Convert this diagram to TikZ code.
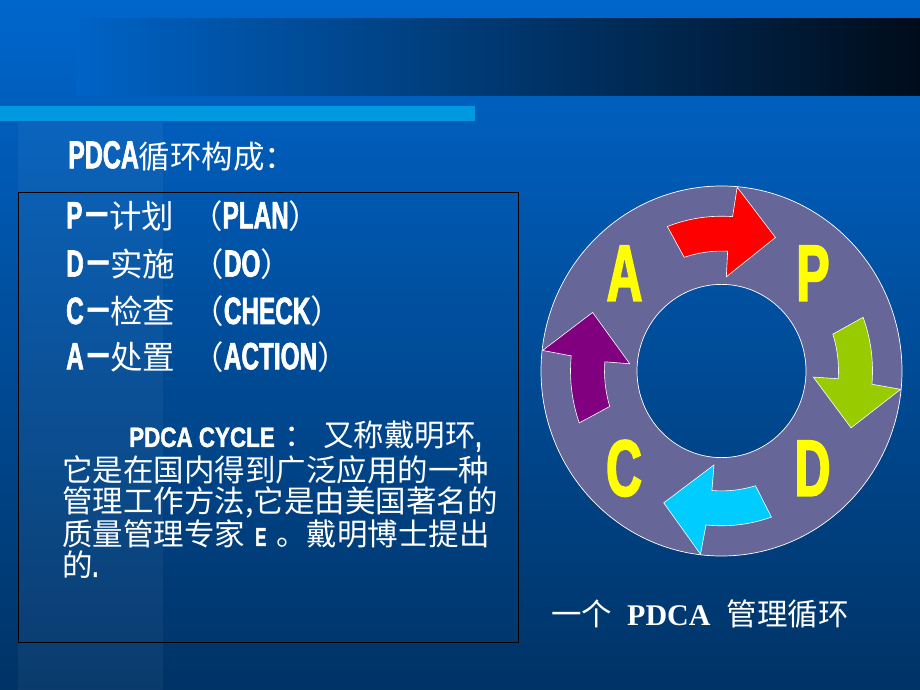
\documentclass[tikz,border=0pt]{standalone}
\usepackage{fontspec}
\newfontfamily\cjk{Noto Sans CJK SC}
\newfontfamily\impf{Liberation Sans}[UprightFont={* Bold}, BoldFont={* Bold}, FakeStretch=0.64, FakeBold=1.6]
\newfontfamily\impw{Liberation Sans}[UprightFont={* Bold}, BoldFont={* Bold}, FakeStretch=0.8, FakeBold=1.4]
\newfontfamily\impbig{Liberation Sans}[UprightFont={* Bold}, BoldFont={* Bold}, FakeStretch=0.62, FakeBold=2]
\newfontfamily\serifb{Liberation Serif}
\newcommand\fs[1]{\fontsize{#1}{#1}\selectfont}
\newcommand\I[2]{{\impf\fs{#1}#2}}
\newcommand\W[2]{{\impw\fs{#1}#2}}
\newcommand\dsh{\I{38}{\raisebox{4pt}{\scalebox{0.85}[1]{—}}}}
\definecolor{bgtop}{HTML}{0066CC}
\definecolor{bgbot}{HTML}{003366}
\definecolor{bandl}{HTML}{0063C6}
\definecolor{bandm}{HTML}{00489A}
\definecolor{bandr}{HTML}{000C1A}
\definecolor{lbar}{HTML}{0098E0}
\definecolor{ringc}{HTML}{666699}
\definecolor{ared}{HTML}{FF0000}
\definecolor{agreen}{HTML}{99CC00}
\definecolor{acyan}{HTML}{00CCFF}
\definecolor{apurple}{HTML}{800080}
\definecolor{lyellow}{HTML}{FFFF00}
\newcommand\pdcaarrow[2]{%
  \path[arrowshape, fill=#2] ({#1+26}:151) arc[start angle={#1+26}, end angle={#1+0.8}, radius=151]
    -- (#1:180) -- ({#1-17.5}:141) -- ({#1+2}:92) -- ({#1+2}:117)
    arc[start angle={#1+2}, end angle={#1+23.6}, radius=117] -- cycle;}
\begin{document}
\begin{tikzpicture}[x=1pt,y=1pt,
  txt/.style={text=white, inner sep=0pt, anchor=base west, font=\cjk\fs{32.5}},
  para/.style={txt, font=\cjk\fs{30.5}},
  bigl/.style={text=lyellow, inner sep=0pt, anchor=center, font=\impbig\fs{80}},
  arrowshape/.style={draw=white, line width=0.6pt, line join=miter}]
\useasboundingbox (0,0) rectangle (920,690);
% background
\shade[top color=bgtop, bottom color=bgbot] (0,0) rectangle (920,690);
\fill[white, opacity=0.045] (18,0) rectangle (163,568);
% top band and bar
\shade[left color=bandl, middle color=bandm, right color=bandr] (76,594) rectangle (920,671);
\fill[lbar] (0,569) rectangle (475,584);
% title
\node[txt, font=\cjk\fs{31.5}] (title) at (68,521.7) {\I{39}{PDCA}循环构成：};
% text box
\draw[black, line width=1pt] (18,47) rectangle (518,497);
\node[txt] (lp) at (66,461.7) {\I{38}{P}\kern4pt\dsh\kern2pt 计划\hspace{16pt}（\I{38}{PLAN}）};
\node[txt] (ld) at (66,413.3) {\I{38}{D}\kern4pt\dsh\kern2pt 实施\hspace{16pt}（\I{38}{DO}）};
\node[txt] (lc) at (66,366) {\I{38}{C}\kern4pt\dsh\kern2pt 检查\hspace{16pt}（\I{38}{CHECK}）};
\node[txt] (la) at (66,320.7) {\I{38}{A}\kern4pt\dsh\kern2pt 处置\hspace{16pt}（\I{38}{ACTION}）};
\node[para] (p1) at (129,243) {\W{28}{PDCA CYCLE}\hspace{10pt}：\hspace{8pt}又称戴明环\I{30}{,}};
\node[para] (p2) at (62,208.5) {它是在国内得到广泛应用的一种};
\node[para] (p3) at (62,177) {管理工作方法,它是由美国著名的};
\node[para] (p4) at (62,144) {质量管理专家\hspace{10pt}\I{26}{E}\hspace{10pt}。戴明博士提出};
\node[para] (p5) at (62,113) {的\I{30}{.}};
% ring
\begin{scope}[shift={(721.5,319)}, yscale=1.025]
  \path[fill=ringc, even odd rule] (0,0) circle[radius=180.5] (0,0) circle[radius=84.5];
  \draw[white, line width=0.7pt] (0,0) circle[radius=180.5];
  \draw[white, line width=0.7pt] (0,0) circle[radius=84.5];
  \pdcaarrow{85}{ared}
  \pdcaarrow{-5.7}{agreen}
  \pdcaarrow{-96.7}{acyan}
  \pdcaarrow{173.6}{apurple}
\end{scope}
\node[bigl] (A) at (624.5,416.7) {A};
\node[bigl] (P) at (813,416.7) {P};
\node[bigl] (C) at (624,221.7) {C};
\node[bigl] (D) at (812.5,221.7) {D};
% caption
\node[para] (cap) at (551,64.3) {一个\hspace{15pt}{\serifb\bfseries\fs{30}PDCA}\hspace{16pt}管理循环};
\end{tikzpicture}
\end{document}
